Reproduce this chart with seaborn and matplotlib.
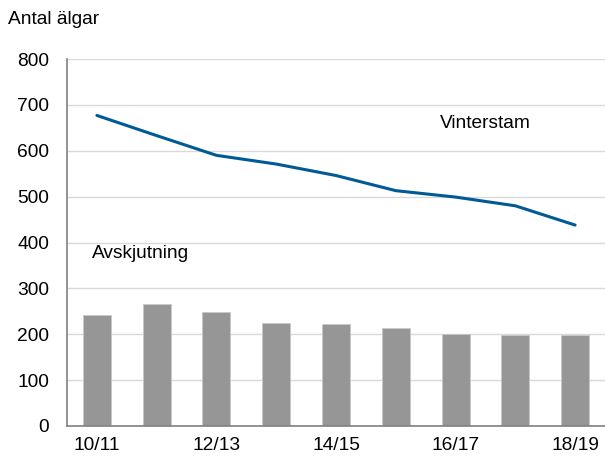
import numpy as np
import matplotlib
matplotlib.use('Agg')
import matplotlib.pyplot as plt
import seaborn as sns

# Values
seasons = ['10/11', '11/12', '12/13', '13/14', '14/15', '15/16', '16/17', '17/18', '18/19']
avskjutning = [241, 265, 249, 225, 223, 213, 201, 199, 199]
vinterstam = [677, 633, 590, 571, 546, 513, 499, 480, 438]

sns.set_theme(style='white')
plt.rcParams['font.family'] = ['Liberation Sans', 'DejaVu Sans']
plt.rcParams['text.color'] = 'black'
fs = 13.8

fig = plt.figure(figsize=(6.05, 4.57), dpi=100)
ax = fig.add_axes([67 / 605, 31 / 457, 538 / 605, 367 / 457])

x = np.arange(len(seasons))
sns.barplot(x=x, y=avskjutning, color='#969696', saturation=1, width=0.47,
            edgecolor='#c8c8c8', linewidth=0.6, ax=ax, zorder=2)
sns.lineplot(x=x, y=vinterstam, color='#005a96', linewidth=2.2, ax=ax, zorder=3)

ax.set_xlim(-0.5, len(seasons) - 0.5)
ax.set_ylim(0, 800)
ax.set_yticks(range(0, 801, 100))
ax.yaxis.grid(True, color='#d9d9d9', linewidth=1)
ax.set_axisbelow(True)

# category labels only every other season, ticks between categories
ax.set_xticks(x[::2])
ax.set_xticklabels(seasons[::2])
ax.set_xticks(np.arange(-0.5, len(seasons), 1), minor=True)
ax.tick_params(axis='x', which='major', length=0, pad=8, labelsize=fs, colors='black')
ax.tick_params(axis='x', which='minor', length=5, width=1, color='#808080', direction='out')
ax.tick_params(axis='y', length=5, width=1, color='#808080', direction='out', pad=8,
               labelsize=fs, labelcolor='black')

for side in ['top', 'right']:
    ax.spines[side].set_visible(False)
for side in ['left', 'bottom']:
    ax.spines[side].set_color('#808080')
    ax.spines[side].set_linewidth(1.2)

ax.text(5.74, 659, 'Vinterstam', fontsize=fs, va='center', ha='left', color='black')
ax.text(-0.08, 377, 'Avskjutning', fontsize=fs, va='center', ha='left', color='black')
fig.text(8 / 605, 1 - 19 / 457, 'Antal älgar', fontsize=fs, va='center', ha='left', color='black')

fig.savefig('out.png', dpi=100)
